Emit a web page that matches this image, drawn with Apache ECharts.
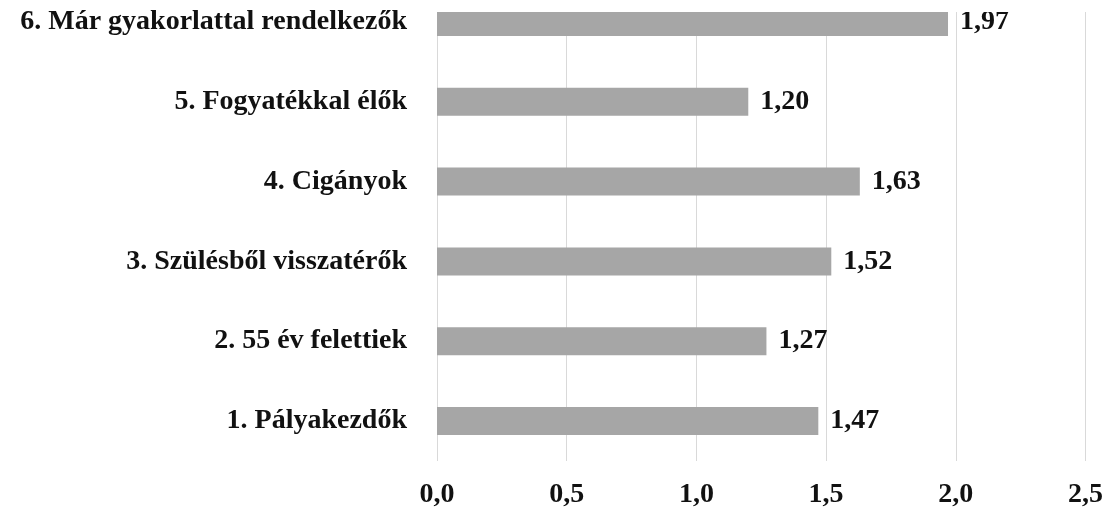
<!DOCTYPE html>
<html>
<head>
<meta charset="utf-8">
<script src="https://cdn.jsdelivr.net/npm/echarts@6/dist/echarts.min.js"></script>
<style>
  html, body { margin: 0; padding: 0; background: #fff; overflow: hidden; }
  #wrap { width: 1106px; height: 511px; overflow: hidden; position: relative; }
  /* a diagram teteje le van vágva az eredetin, ezért feljebb toljuk */
  #chart { width: 1106px; height: 529px; position: absolute; top: -18px; left: 0; }
</style>
</head>
<body>
<div id="wrap"><div id="chart"></div></div>
<script>
// kategóriák alulról felfelé
var categories = [
    '1. Pályakezdők',
    '2. 55 év felettiek',
    '3. Szülésből visszatérők',
    '4. Cigányok',
    '5. Fogyatékkal élők',
    '6. Már gyakorlattal rendelkezők'
];
var values = [1.47, 1.27, 1.52, 1.63, 1.20, 1.97];
var tickMin = 0, tickMax = 2.5, tickStep = 0.5;

var fontFamily = '"Liberation Serif", "DejaVu Serif", serif';

function comma(v, digits) {
    return Number(v).toFixed(digits).replace('.', ',');
}

var option = {
    animation: false,
    backgroundColor: '#fff',
    grid: {left: 437, right: 19, top: 0, bottom: 50},
    xAxis: {
        type: 'value',
        min: tickMin,
        max: tickMax,
        interval: tickStep,
        axisLine: {show: false},
        axisTick: {show: false},
        splitLine: {lineStyle: {color: '#d9d9d9', width: 1}},
        axisLabel: {
            margin: 20,
            color: '#111',
            fontFamily: fontFamily,
            fontWeight: 'bold',
            fontSize: 28,
            formatter: function (v) { return comma(v, 1); }
        }
    },
    yAxis: {
        type: 'category',
        data: categories,
        axisLine: {show: false},
        axisTick: {show: false},
        axisLabel: {
            margin: 30,
            color: '#111',
            fontFamily: fontFamily,
            fontWeight: 'bold',
            fontSize: 28
        }
    },
    series: [{
        type: 'bar',
        data: values,
        barWidth: 28,
        itemStyle: {color: '#a6a6a6'},
        label: {
            show: true,
            position: 'right',
            distance: 12,
            color: '#111',
            fontFamily: fontFamily,
            fontWeight: 'bold',
            fontSize: 28,
            formatter: function (p) { return comma(p.value, 2); }
        }
    }],
    graphic: [{
        type: 'rect',
        z: 100,
        shape: {x: 430, y: 0, width: 676, height: 30},
        style: {fill: '#fff'}
    }]
};

var myChart = echarts.init(document.getElementById('chart'));
myChart.setOption(option);
</script>
</body>
</html>
